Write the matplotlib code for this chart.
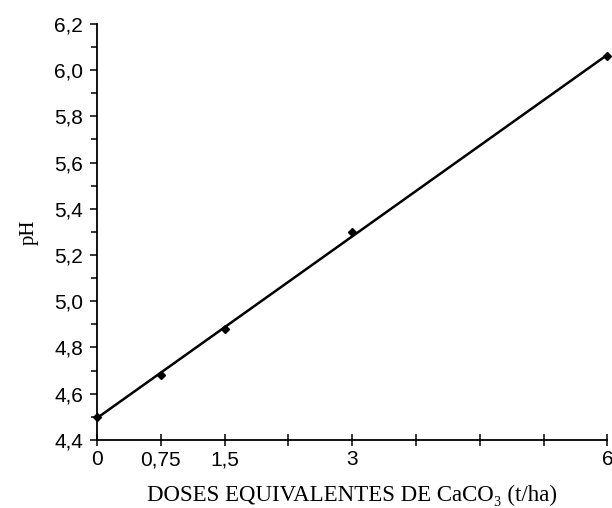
import numpy as np
import matplotlib
matplotlib.use("Agg")
import matplotlib.pyplot as plt
import matplotlib.ticker as mticker

doses = [0, 0.75, 1.5, 3, 6]
ph = [4.50, 4.68, 4.88, 5.30, 6.06]
x_labels = {0: "0", 0.75: "0,75", 1.5: "1,5", 3: "3", 6: "6"}

fig = plt.figure(figsize=(6.12, 5.08), dpi=100)
ax = fig.add_axes([0.1585, 0.134, 0.834, 0.819])

coef = np.polyfit(doses, ph, 1)
xs = np.array([0, 6])
ax.plot(xs, np.polyval(coef, xs), color="black", linewidth=1.8, zorder=2)
ax.plot(doses, ph, linestyle="none", marker="D", markersize=4.5, color="black", zorder=3,
        clip_on=False)

ax.set_xlim(0, 6)
ax.set_ylim(4.4, 6.2)
ax.set_xticks(np.arange(0, 6.01, 0.75))
ax.xaxis.set_major_formatter(mticker.FuncFormatter(
    lambda v, _: x_labels.get(round(v, 2), "")))
ax.set_yticks(np.arange(4.4, 6.21, 0.2))
ax.yaxis.set_minor_locator(mticker.MultipleLocator(0.1))
ax.yaxis.set_major_formatter(mticker.FuncFormatter(lambda v, _: f"{v:.1f}".replace(".", ",")))

for spine in ("top", "right"):
    ax.spines[spine].set_visible(False)
for spine in ("left", "bottom"):
    ax.spines[spine].set_linewidth(1.3)

ax.tick_params(axis="x", direction="inout", length=9, width=1.1, labelsize=15, pad=3)
ax.tick_params(axis="y", which="major", direction="out", length=5, width=1.1, labelsize=15, pad=5)
ax.tick_params(axis="y", which="minor", direction="out", length=4, width=1.1)
for lab in ax.get_xticklabels() + ax.get_yticklabels():
    lab.set_fontfamily("Liberation Sans")

ax.set_xlabel("DOSES EQUIVALENTES DE CaCO\u2083 (t/ha)",
              fontfamily=["Liberation Serif", "DejaVu Serif"], fontsize=16.5, labelpad=11)
ax.set_ylabel("pH", fontfamily="Liberation Serif", fontsize=15, labelpad=11)

fig.savefig("out.png", dpi=100)
